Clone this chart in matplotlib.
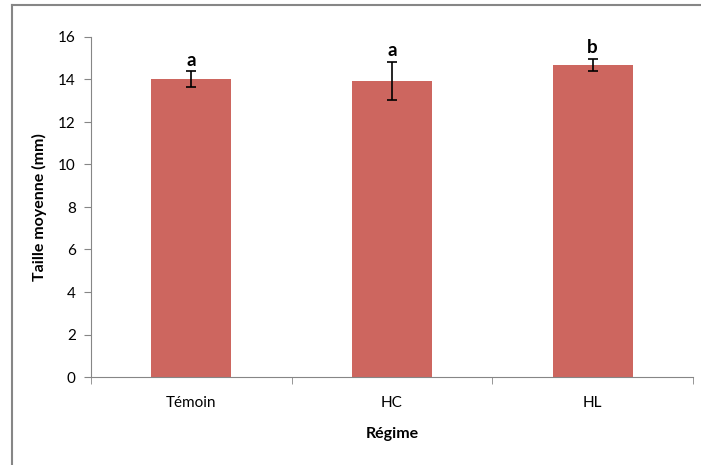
import matplotlib.pyplot as plt
from matplotlib.lines import Line2D

regimes = ["Témoin", "HC", "HL"]
tailles = [14.02, 13.92, 14.70]
erreurs = [0.36, 0.90, 0.28]
lettres = ["a", "a", "b"]

plt.rcParams['font.family'] = ['Lato', 'DejaVu Sans']

fig = plt.figure(figsize=(7.01, 4.65), dpi=100)
ax = fig.add_axes([91/701, 1-377/465, (693-91)/701, (377-37)/465])

gris = "#868686"
x = range(len(regimes))
ax.bar(x, tailles, width=0.40, color="#CD665F", zorder=2)
ax.errorbar(x, tailles, yerr=erreurs, fmt="none", ecolor="black",
            elinewidth=1.2, capsize=3.5, capthick=1.2, zorder=3)

for i in x:
    ax.annotate(lettres[i], xy=(i, tailles[i] + erreurs[i]), xytext=(0, 2),
                textcoords="offset points", ha="center", va="bottom",
                fontsize=13.5, fontweight="bold")

ax.set_xlim(-0.5, 2.5)
ax.set_ylim(0, 16)
ax.set_yticks(range(0, 17, 2))
ax.set_xticks(list(x))
ax.set_xticklabels(regimes)
ax.set_xticks([-0.5, 0.5, 1.5, 2.5], minor=True)
ax.tick_params(axis="x", which="major", length=0, pad=14, labelsize=11)
ax.tick_params(axis="x", which="minor", length=5, color=gris, direction="out")
ax.tick_params(axis="y", length=5, color=gris, labelsize=11, pad=6)

ax.spines["right"].set_visible(False)
ax.spines["top"].set_visible(False)
ax.spines["left"].set_color(gris)
ax.spines["bottom"].set_color(gris)

ax.set_xlabel("Régime", fontweight="bold", fontsize=11.5, labelpad=12)
ax.set_ylabel("Taille moyenne (mm)", fontweight="bold", fontsize=11.5, labelpad=8)

# cadre du graphique (haut et gauche)
fig.add_artist(Line2D([12/701, 1], [1-5/465, 1-5/465], color=gris, lw=1.5))
fig.add_artist(Line2D([12/701, 12/701], [0, 1-5/465], color=gris, lw=1.5))

fig.savefig("out.png", dpi=100)
